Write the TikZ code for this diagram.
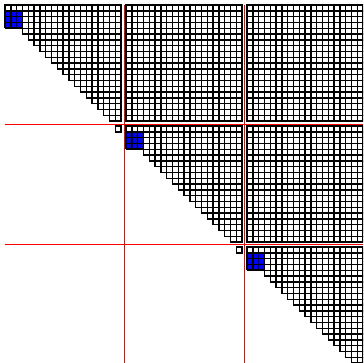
\documentclass[tikz,border=0pt]{standalone}
\begin{document}
\begin{tikzpicture}[x=0.1cm,y=-0.1cm,
  cell/.style={draw=black,fill=white,line width=1.4mm},
  bluefill/.style={fill=blue},
  gridline/.style={draw=black,line width=1.6mm},
  sep/.style={draw=red,line width=1.0mm}]
\useasboundingbox (0,0) rectangle (363,363);
\clip (0,0) rectangle (363,363);
\foreach \r in {0,...,59}{
  \pgfmathtruncatemacro{\cs}{max(0,\r-1)}
  \pgfmathsetmacro{\yy}{5+int(\r/20)*121+mod(\r,20)*5.8}
  \foreach \c in {\cs,...,59}{
    \pgfmathsetmacro{\xx}{5+int(\c/20)*121+mod(\c,20)*5.8}
    \draw[cell] (\xx,\yy) rectangle ++(5.8,5.8);
  }
}
\foreach \k in {0,1,2}{
  \pgfmathsetmacro{\bx}{5+\k*121}
  \pgfmathsetmacro{\by}{5+\k*121+5.8}
  \fill[bluefill] (\bx,\by) rectangle ++(17.4,17.4);
  \foreach \i in {0,1,2,3}{
    \draw[gridline] (\bx,\by) ++(0,\i*5.8) -- ++(17.4,0);
    \draw[gridline] (\bx,\by) ++(\i*5.8,0) -- ++(0,17.4);
  }
}
\coordinate (h1a) at (5,124.0);
\coordinate (h1b) at (363,124.0);
\coordinate (v1a) at (124.0,5);
\coordinate (v1b) at (124.0,363);
\coordinate (h2a) at (5,244.7);
\coordinate (h2b) at (363,244.7);
\coordinate (v2a) at (244.7,5);
\coordinate (v2b) at (244.7,363);
\draw[sep] (h1a) -- (h1b);
\draw[sep] (v1a) -- (v1b);
\draw[sep] (h2a) -- (h2b);
\draw[sep] (v2a) -- (v2b);
\end{tikzpicture}
\end{document}
